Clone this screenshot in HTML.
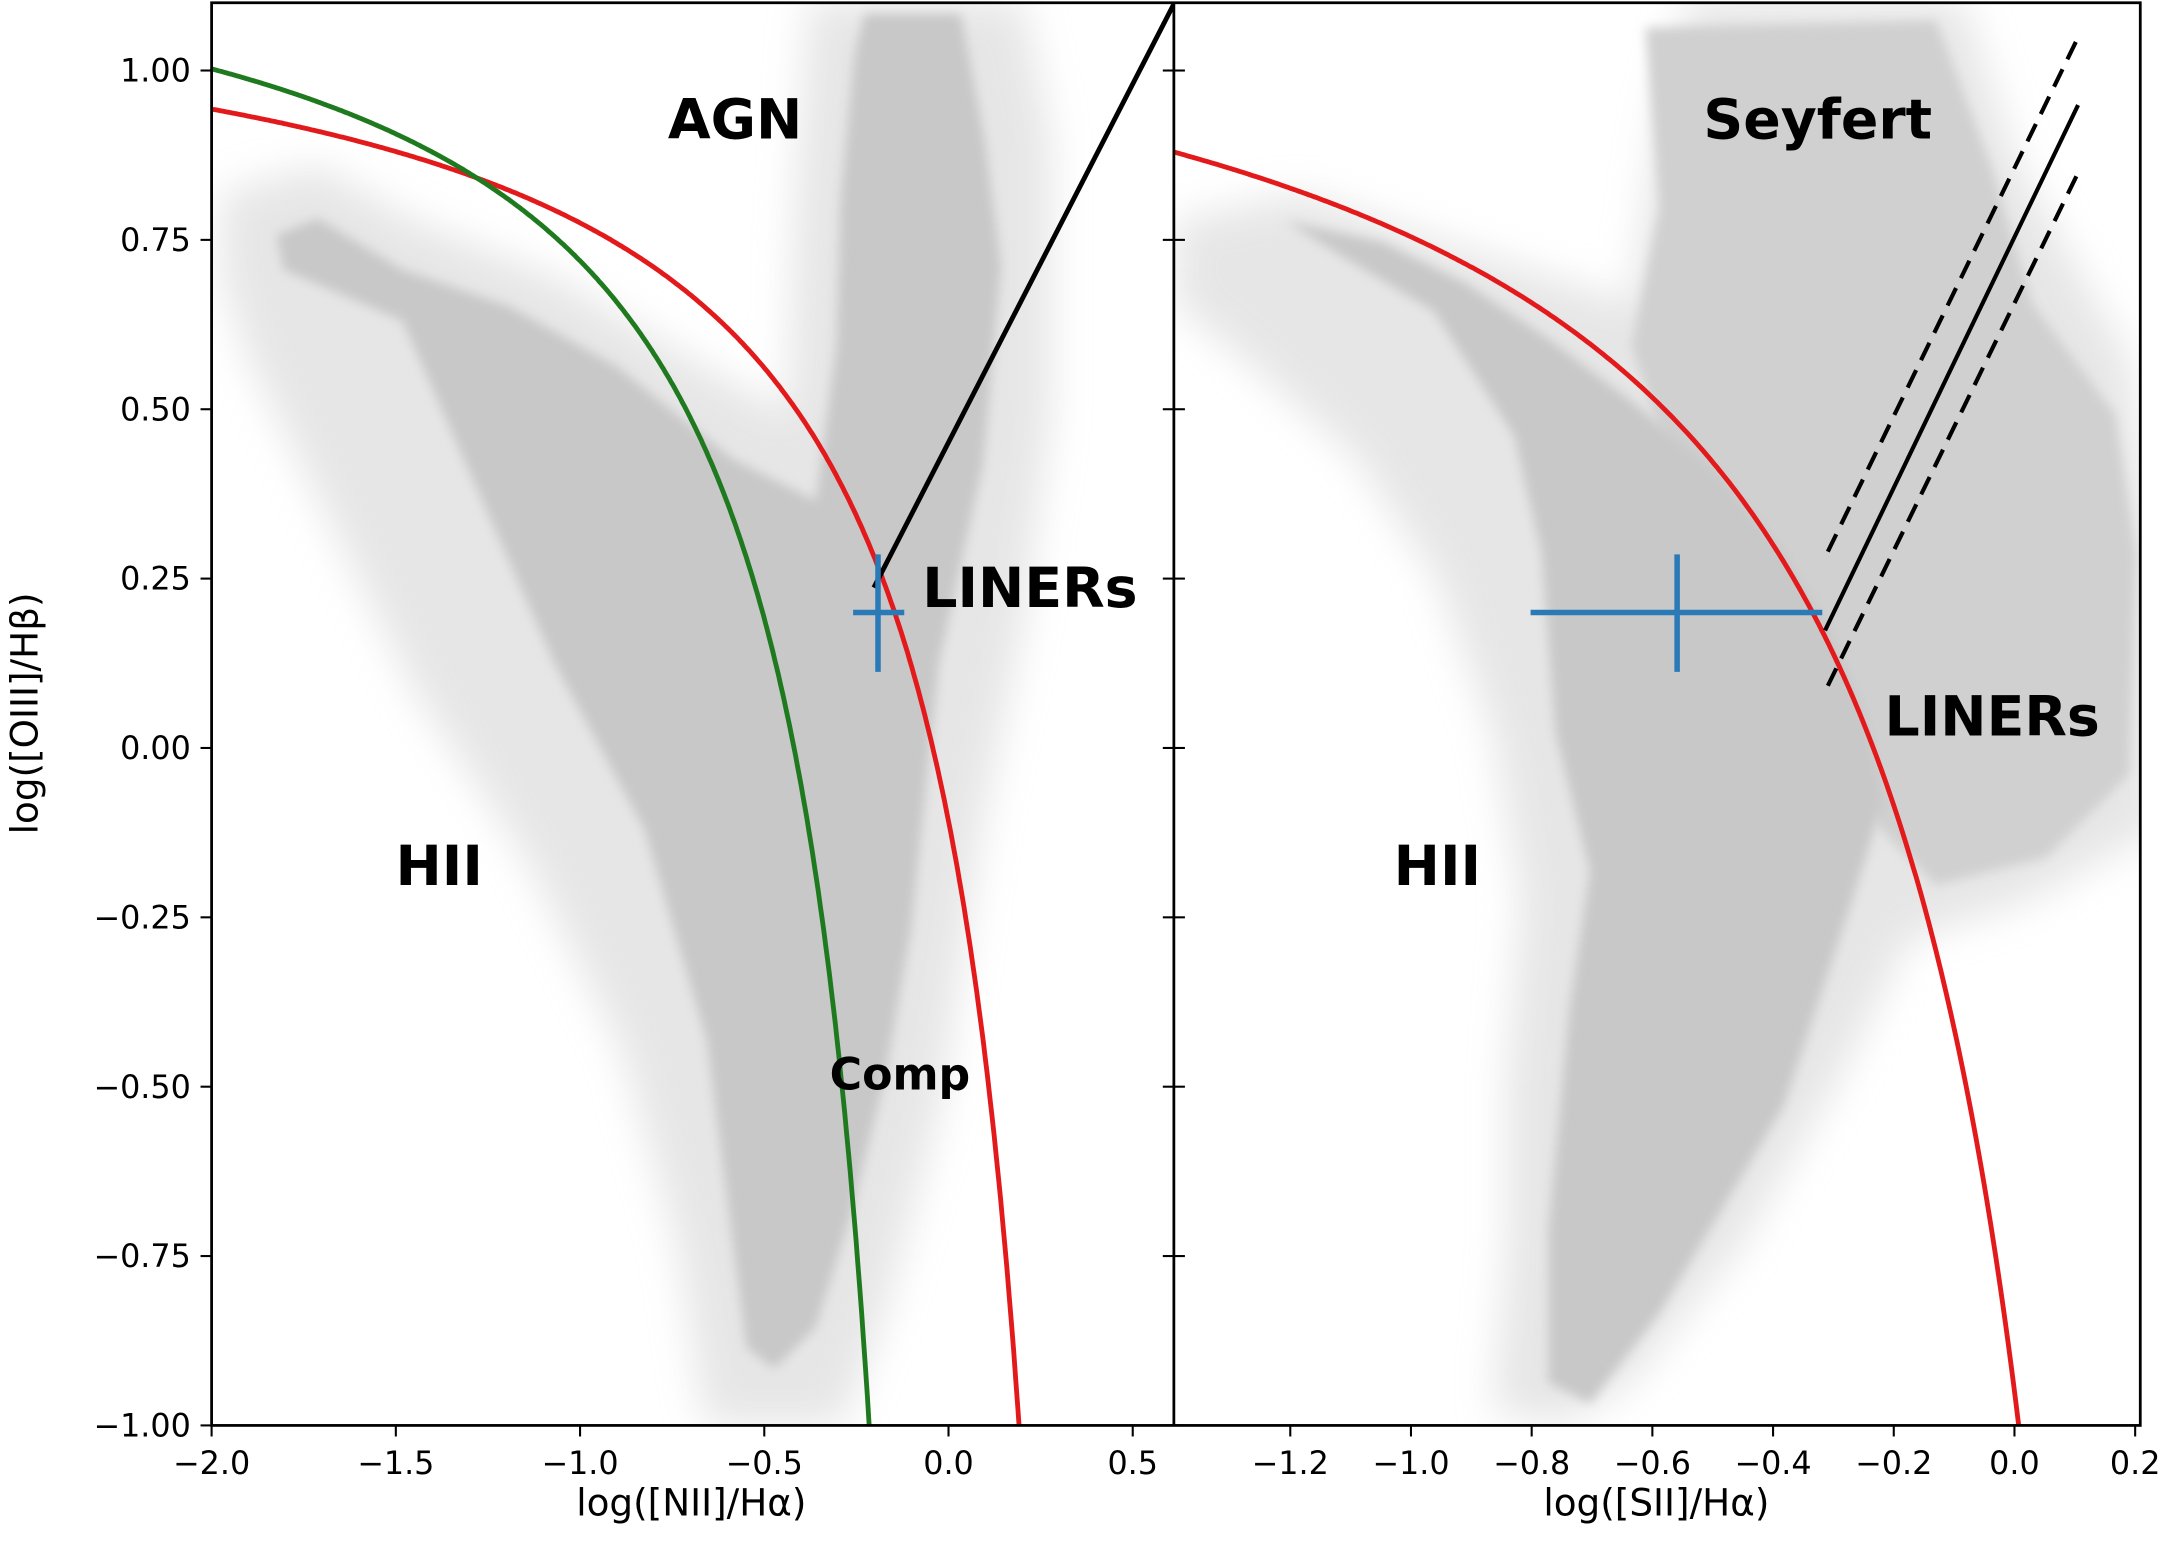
<!DOCTYPE html>
<html><head><style>html,body{margin:0;padding:0;background:#fff}svg{display:block}</style></head><body>
<svg width="2168" height="1554" viewBox="0 0 1568 1124" xmlns="http://www.w3.org/2000/svg" font-family="DejaVu Sans, Liberation Sans, sans-serif">
<defs>
<filter id="b" x="-10%" y="-10%" width="120%" height="120%"><feGaussianBlur stdDeviation="14"/></filter>
<filter id="b2"><feGaussianBlur stdDeviation="4"/></filter>
<clipPath id="cl"><rect x="153" y="2" width="696" height="1029"/></clipPath>
<clipPath id="cr"><rect x="849" y="2" width="699" height="1029"/></clipPath>
</defs>
<rect width="1568" height="1124" fill="#fff"/>
<g clip-path="url(#cl)">
<polygon fill="#dcdcdc" opacity="0.7" filter="url(#b)" points="160,140 230,120 300,160 400,200 500,260 570,300 575,150 585,0 740,0 760,100 760,300 740,450 710,600 680,800 640,950 610,1030 510,1030 490,900 450,760 380,620 300,500 230,360 180,260 160,200"/>
<polygon fill="#c8c8c8" filter="url(#b2)" points="200,170 230,158 291,195 369,222 446,265 530,332 590,362 605,250 608,144 618,40 625,10 695,10 712,100 724,192 711,336 679,480 659,672 640,780 615,880 590,960 560,990 540,975 530,900 511,752 466,600 401,480 337,336 291,232 240,210 205,195"/>
</g>
<g clip-path="url(#cr)">
<polygon fill="#dcdcdc" opacity="0.7" filter="url(#b)" points="850,160 940,140 1060,180 1180,220 1200,80 1220,0 1420,0 1460,120 1540,260 1560,400 1560,600 1470,650 1380,680 1330,780 1260,900 1180,1000 1130,1030 1080,1020 1090,900 1090,780 1100,650 1080,530 1040,420 980,330 900,260 850,220"/>
<polygon fill="#d0d0d0" filter="url(#b2)" points="1190,20 1400,15 1440,120 1470,220 1530,300 1545,400 1540,560 1480,620 1400,640 1360,600 1300,470 1250,380 1200,310 1180,250 1200,150"/>
<polygon fill="#c8c8c8" filter="url(#b2)" points="930,160 1000,175 1060,205 1120,245 1180,290 1240,340 1290,400 1320,450 1350,520 1362,580 1340,650 1290,800 1200,950 1150,1015 1120,1000 1120,890 1135,730 1150,630 1125,530 1115,400 1095,315 1037,225 970,185"/>
</g>
<g fill="none" stroke-width="3.5" clip-path="url(#cl)">
<path id="kew1" stroke="#e31a1c" d=""/>
<path id="kauf" stroke="#1f7a1f" d=""/>
<line x1="632" y1="425" x2="851" y2="-1" stroke="#000"/>
<g stroke="#2a7ab8" stroke-width="4"><line x1="617" y1="443" x2="654" y2="443"/><line x1="635" y1="401" x2="635" y2="486"/></g>
</g>
<g fill="none" stroke-width="3.5" clip-path="url(#cr)">
<path id="kew2" stroke="#e31a1c" d=""/>
<line x1="1320" y1="456" x2="1503" y2="76" stroke="#000" stroke-width="3"/>
<line x1="1322" y1="399" x2="1503" y2="27" stroke="#000" stroke-width="3" stroke-dasharray="14,8"/>
<line x1="1322" y1="496" x2="1503" y2="125" stroke="#000" stroke-width="3" stroke-dasharray="14,8"/>
<g stroke="#2a7ab8" stroke-width="4"><line x1="1107" y1="443" x2="1318" y2="443"/><line x1="1213" y1="401" x2="1213" y2="486"/></g>
</g>
<rect x="153" y="2" width="1395" height="1029" fill="none" stroke="#000" stroke-width="2"/>
<line x1="849" y1="2" x2="849" y2="1031" stroke="#000" stroke-width="2"/>
<g stroke="#000" stroke-width="1.5" id="ticks"></g>
<g font-size="23" fill="#000" id="labels"></g>
<g font-weight="bold" font-size="40" fill="#000">
<text x="483" y="100">AGN</text>
<text x="667" y="439">LINERs</text>
<text x="286" y="640">HII</text>
<text x="600" y="788" font-size="32">Comp</text>
<text x="1232" y="100">Seyfert</text>
<text x="1363" y="532">LINERs</text>
<text x="1008" y="640">HII</text>
</g>
<text x="500" y="1096" font-size="27" text-anchor="middle">log([NII]/Hα)</text>
<text x="1198" y="1096" font-size="27" text-anchor="middle">log([SII]/Hα)</text>
<text transform="translate(27,516) rotate(-90)" font-size="27" text-anchor="middle">log([OIII]/Hβ)</text>
<script>
function X1(x){return 153+(x+2)*266.5}
function X2(x){return 1457+x*436.5}
function Y(y){return 541-y*490}
function path(f,X,a,b){let d='';for(let i=0;i<=400;i++){let x=a+(b-a)*i/400;let y=f(x);if(y<-1.2)break;d+=(i?'L':'M')+X(x).toFixed(1)+','+Y(y).toFixed(1)}return d}
document.getElementById('kew1').setAttribute('d',path(x=>0.61/(x-0.47)+1.19,X1,-2.05,0.3));
document.getElementById('kauf').setAttribute('d',path(x=>0.61/(x-0.05)+1.3,X1,-2.05,0.0));
document.getElementById('kew2').setAttribute('d',path(x=>0.72/(x-0.32)+1.30,X2,-1.45,0.2));
const ns='http://www.w3.org/2000/svg';const T=document.getElementById('ticks'),L=document.getElementById('labels');
function ln(a,b,c,d){let l=document.createElementNS(ns,'line');l.setAttribute('x1',a);l.setAttribute('y1',b);l.setAttribute('x2',c);l.setAttribute('y2',d);T.appendChild(l)}
function tx(x,y,s,anc){let t=document.createElementNS(ns,'text');t.setAttribute('x',x);t.setAttribute('y',y);t.setAttribute('text-anchor',anc);t.textContent=s;L.appendChild(t)}
function fmt(v,n){return (v<0?'\u2212':'')+Math.abs(v).toFixed(n)}
[-2,-1.5,-1,-0.5,0,0.5].forEach(v=>{let x=X1(v);ln(x,1031,x,1039);tx(x,1066,fmt(v,1),'middle')});
[-1.2,-1,-0.8,-0.6,-0.4,-0.2,0,0.2].forEach(v=>{let x=X2(v);ln(x,1031,x,1039);tx(x,1066,fmt(Math.abs(v)<1e-9?0:v,1),'middle')});
[1,0.75,0.5,0.25,0,-0.25,-0.5,-0.75,-1].forEach(v=>{let y=Y(v);ln(145,y,153,y);ln(849,y,857,y);ln(841,y,849,y);tx(138,y+8,fmt(Math.abs(v)<1e-9?0:v,2),'end')});
</script>
</svg>
</body></html>
